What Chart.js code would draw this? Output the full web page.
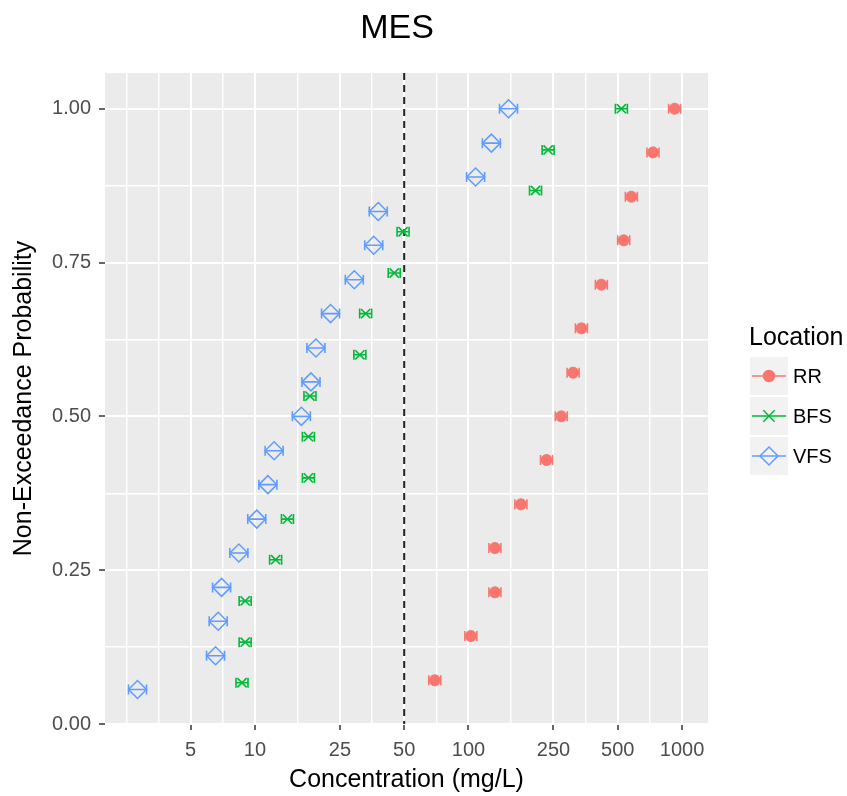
<!DOCTYPE html>
<html>
<head>
<meta charset="utf-8">
<title>MES</title>
<script src="https://cdn.jsdelivr.net/npm/chart.js@4.4.0/dist/chart.umd.min.js"></script>
<style>
  html, body { margin: 0; padding: 0; background: #fff; }
  #wrap { width: 847px; height: 796px; }
</style>
</head>
<body>
<div id="wrap"><canvas id="mes" width="847" height="796"></canvas></div>
<script>
const FONT = "'Liberation Sans', Arial, sans-serif";

const locations = ['RR', 'BFS', 'VFS'];
const colors = ['#F8766D', '#00BA38', '#619CFF'];

// concentration (mg/L) and non-exceedance probability
const rrConc = [69.5, 102.6, 133, 133, 176, 232, 272, 309, 338, 419, 533, 579, 731, 923];
const rrProb = [0.071, 0.143, 0.214, 0.286, 0.357, 0.429, 0.500, 0.571, 0.643, 0.714, 0.786, 0.857, 0.929, 1.000];

const bfsConc = [8.7, 9.0, 9.0, 12.5, 14.2, 17.8, 17.8, 18.1, 31.0, 33.0, 44.9, 49.4, 206, 236, 520];
const bfsProb = [0.067, 0.133, 0.200, 0.267, 0.333, 0.400, 0.467, 0.533, 0.600, 0.667, 0.733, 0.800, 0.867, 0.933, 1.000];

const vfsConc = [2.82, 6.54, 6.73, 6.98, 8.41, 10.2, 11.5, 12.3, 16.5, 18.3, 19.3, 22.6, 29.2, 36.0, 37.8, 108, 128, 154];
const vfsProb = [0.056, 0.111, 0.167, 0.222, 0.278, 0.333, 0.389, 0.444, 0.500, 0.556, 0.611, 0.667, 0.722, 0.778, 0.833, 0.889, 0.944, 1.000];

const threshold = 50;

const xMajor = [5, 10, 25, 50, 100, 250, 500, 1000];
const xMinor = [2.5, 3.536, 7.071, 15.81, 35.36, 70.71, 158.1, 353.6, 707.1];
const yMajor = [0, 0.25, 0.5, 0.75, 1];
const yMinor = [0.125, 0.375, 0.625, 0.875];

const toPoints = (xs, ys) => xs.map((x, i) => ({x: x, y: ys[i]}));

const panelBg = {
  id: 'panelBg',
  beforeDraw(chart) {
    const {ctx, chartArea: a} = chart;
    ctx.save();
    ctx.fillStyle = '#ebebeb';
    ctx.fillRect(a.left, a.top, a.right - a.left, a.bottom - a.top);
    ctx.restore();
  }
};

// dashed reference line + small horizontal error bars under each point
const overlays = {
  id: 'overlays',
  beforeDatasetsDraw(chart) {
    const {ctx, chartArea: a, scales} = chart;
    ctx.save();
    const xv = scales.x.getPixelForValue(threshold);
    ctx.strokeStyle = '#222';
    ctx.lineWidth = 2;
    ctx.setLineDash([7, 5]);
    ctx.beginPath();
    ctx.moveTo(xv, a.top);
    ctx.lineTo(xv, a.bottom);
    ctx.stroke();
    ctx.setLineDash([]);

    chart.data.datasets.forEach((ds, i) => {
      const meta = chart.getDatasetMeta(i);
      const w = ds.barHalf, h = 5;
      ctx.strokeStyle = ds.borderColor;
      ctx.lineWidth = 1.6;
      meta.data.forEach(pt => {
        ctx.beginPath();
        ctx.moveTo(pt.x - w, pt.y); ctx.lineTo(pt.x + w, pt.y);
        ctx.moveTo(pt.x - w, pt.y - h); ctx.lineTo(pt.x - w, pt.y + h);
        ctx.moveTo(pt.x + w, pt.y - h); ctx.lineTo(pt.x + w, pt.y + h);
        ctx.stroke();
      });
    });
    ctx.restore();
  }
};

// title + ggplot style legend
const decorations = {
  id: 'decorations',
  afterDraw(chart) {
    const ctx = chart.ctx;
    ctx.save();
    ctx.fillStyle = '#000';
    ctx.font = '34px ' + FONT;
    ctx.textAlign = 'center';
    ctx.textBaseline = 'alphabetic';
    ctx.fillText('MES', 397, 38);

    ctx.textAlign = 'left';
    ctx.font = '25px ' + FONT;
    ctx.fillText('Location', 749, 345);

    chart.data.datasets.forEach((ds, i) => {
      const top = 357 + i * 40;
      const cx = 769, cy = top + 19;
      ctx.fillStyle = '#f2f2f2';
      ctx.fillRect(750, top, 38, 38);
      ctx.strokeStyle = ds.borderColor;
      ctx.lineWidth = 1.5;
      ctx.beginPath();
      ctx.moveTo(752, cy);
      ctx.lineTo(786, cy);
      ctx.stroke();
      ctx.fillStyle = ds.backgroundColor;
      Chart.helpers.drawPoint(ctx, {
        pointStyle: ds.pointStyle, radius: ds.legendRadius,
        borderWidth: ds.pointBorderWidth, rotation: 0
      }, cx, cy);
      ctx.fillStyle = '#000';
      ctx.font = '20px ' + FONT;
      ctx.textBaseline = 'middle';
      ctx.fillText(ds.label, 793, cy + 1);
      ctx.textBaseline = 'alphabetic';
    });
    ctx.restore();
  }
};

const isXMajor = v => xMajor.some(m => Math.abs(m - v) < 1e-6);
const isYMajor = v => yMajor.some(m => Math.abs(m - v) < 1e-6);

new Chart(document.getElementById('mes'), {
  type: 'scatter',
  data: {
    datasets: [
      {
        label: locations[0], data: toPoints(rrConc, rrProb),
        borderColor: colors[0], backgroundColor: colors[0],
        pointStyle: 'circle', pointRadius: 5.5, pointBorderWidth: 1,
        barHalf: 6, legendRadius: 5.5
      },
      {
        label: locations[1], data: toPoints(bfsConc, bfsProb),
        borderColor: colors[1], backgroundColor: 'rgba(0,0,0,0)',
        pointStyle: 'crossRot', pointRadius: 6.5, pointBorderWidth: 1.6,
        barHalf: 6, legendRadius: 8
      },
      {
        label: locations[2], data: toPoints(vfsConc, vfsProb),
        borderColor: colors[2], backgroundColor: 'rgba(0,0,0,0)',
        pointStyle: 'rectRot', pointRadius: 9, pointBorderWidth: 1.5,
        barHalf: 9, legendRadius: 9
      }
    ]
  },
  options: {
    responsive: false,
    animation: false,
    events: [],
    layout: { padding: { top: 73, right: 139, left: 0, bottom: 0 } },
    plugins: {
      legend: { display: false },
      tooltip: { enabled: false },
      title: { display: false }
    },
    scales: {
      x: {
        type: 'logarithmic',
        min: 1.986,
        max: 1323,
        afterBuildTicks: s => {
          s.ticks = xMinor.concat(xMajor).sort((a, b) => a - b).map(v => ({value: v}));
        },
        afterFit: s => { s.height = 72; },
        border: { display: false },
        grid: {
          color: '#ffffff',
          lineWidth: c => (c.tick && isXMajor(c.tick.value)) ? 2 : 1.4,
          tickColor: c => (c.tick && isXMajor(c.tick.value)) ? '#333333' : 'rgba(0,0,0,0)',
          tickWidth: 1.5,
          tickLength: 6
        },
        ticks: {
          autoSkip: false,
          maxRotation: 0,
          minRotation: 0,
          padding: 8,
          color: '#4d4d4d',
          font: { size: 20, family: FONT },
          callback: v => isXMajor(v) ? String(v) : ''
        },
        title: {
          display: true,
          text: 'Concentration (mg/L)',
          color: '#000',
          font: { size: 25, family: FONT },
          padding: { top: 0, bottom: 1 }
        }
      },
      y: {
        type: 'linear',
        min: 0,
        max: 1.058,
        afterBuildTicks: s => {
          s.ticks = yMajor.concat(yMinor).sort((a, b) => a - b).map(v => ({value: v}));
        },
        afterFit: s => { s.width = 105; },
        border: { display: false },
        grid: {
          color: '#ffffff',
          lineWidth: c => (c.tick && isYMajor(c.tick.value)) ? 2 : 1.4,
          tickColor: c => (c.tick && isYMajor(c.tick.value)) ? '#333333' : 'rgba(0,0,0,0)',
          tickWidth: 1.5,
          tickLength: 6
        },
        ticks: {
          autoSkip: false,
          padding: 8,
          color: '#4d4d4d',
          font: { size: 20, family: FONT },
          callback: v => isYMajor(v) ? v.toFixed(2) : ''
        },
        title: {
          display: true,
          text: 'Non-Exceedance Probability',
          color: '#000',
          font: { size: 25, family: FONT },
          padding: { top: 9, bottom: 0 }
        }
      }
    }
  },
  plugins: [panelBg, overlays, decorations]
});
</script>
</body>
</html>
